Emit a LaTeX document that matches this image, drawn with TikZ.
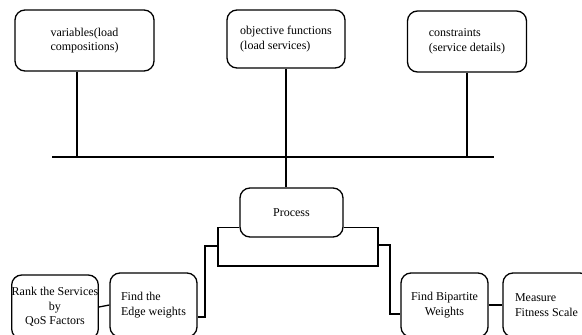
\documentclass[tikz,border=0pt]{standalone}
\usepackage{fontspec}
\setmainfont{Liberation Serif}

\begin{document}
\begin{tikzpicture}[x=1pt,y=-1pt,
    kasten/.style={
      draw,
      line width=1.3pt,
      rounded corners=10pt,
      inner sep=1pt,
      font=\fontsize{12}{14.5}\selectfont},
    linie/.style={line width=1.3pt}
    ]
  \useasboundingbox (0,0) rectangle (582,335);

  \node at (84.5,40.5) (variablen) [kasten, minimum width=139pt, minimum height=61pt, align=center] {variables(load\\compositions)};
  \node at (286,39) (ziel) [kasten, minimum width=118pt, minimum height=58pt, align=left] {objective functions\\(load services)};
  \node at (467,41.5) (grenzen) [kasten, minimum width=119pt, minimum height=61pt, align=left] {constraints\\(service details)};

  \node at (291.5,212.5) (prozess) [kasten, minimum width=103pt, minimum height=49pt] {Process};

  \node at (55,307) (rang) [kasten, minimum width=86pt, minimum height=64pt, align=center, inner sep=0pt] {Rank the Services\\by\\QoS Factors};
  \node at (153.5,305) (kanten) [kasten, minimum width=87pt, minimum height=64pt, align=left] {Find the\\Edge weights};
  \node at (444.5,305) (bipartit) [kasten, minimum width=87pt, minimum height=64pt, align=center] {Find Bipartite\\Weights};
  \node at (546.5,305) (fitness) [kasten, minimum width=87pt, minimum height=64pt, align=left] {Measure\\Fitness Scale};

  \coordinate (busL) at (52,157);
  \coordinate (busR) at (494,157);
  \coordinate (klammerL) at (218,266);
  \coordinate (klammerR) at (378,266);
  \coordinate (abzweigL) at (218,246);
  \coordinate (knickL) at (205,246);
  \coordinate (abzweigR) at (378,245);
  \coordinate (knickR) at (390,245);

  \draw [linie] (busL) -- (busR);
  \draw [linie] ([xshift=-7.5pt]variablen.south) -- ([xshift=-7.5pt]variablen.south |- busL);
  \draw [linie] (ziel.south) -- (ziel.south |- prozess.north);
  \draw [linie] (grenzen.south) -- (grenzen.south |- busR);

  \draw [linie] ([yshift=-15pt]prozess.west) -| (klammerL) -- (klammerR) |- ([yshift=-15pt]prozess.east);

  \draw [linie] (abzweigL) -- (knickL) |- ([yshift=-12pt]kanten.east);
  \draw [linie] (abzweigR) -- (knickR) |- ([yshift=-9pt]bipartit.west);
  \draw [linie] (rang.east) -- (kanten.west);
  \draw [linie] (bipartit.east) -- (fitness.west);

\end{tikzpicture}
\end{document}
